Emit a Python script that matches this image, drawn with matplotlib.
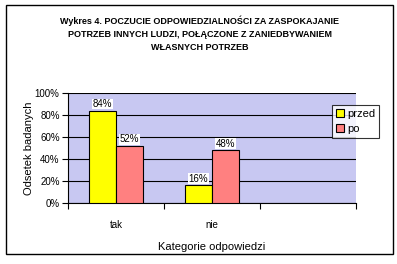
import matplotlib.pyplot as plt
import numpy as np
from matplotlib.patches import Rectangle

categories = ["tak", "nie", ""]
przed = [84, 16, None]
po = [52, 48, None]
series_names = ["przed", "po"]

plt.rcParams['font.family'] = ['Liberation Sans', 'DejaVu Sans']

fig = plt.figure(figsize=(3.97, 2.64), dpi=100)
fig.patches.append(Rectangle((6 / 397, 1 - 254 / 264), 387 / 397, 249 / 264,
                             transform=fig.transFigure, fill=False,
                             edgecolor="black", linewidth=1.0))

ax = fig.add_axes([68 / 397, 1 - 203 / 264, 288 / 397, 110 / 264])
ax.set_facecolor("#C8C8F2")

x = np.arange(len(categories))
w = 0.28
colors = ["#FFFF00", "#FF8080"]
for i, (vals, name) in enumerate(zip([przed, po], series_names)):
    xs = [xi for xi, v in zip(x, vals) if v is not None]
    vs = [v for v in vals if v is not None]
    bars = ax.bar(np.array(xs) + (i - 0.5) * w, vs, w, color=colors[i],
                  edgecolor="black", linewidth=0.8, label=name, zorder=3)
    for b, v in zip(bars, vs):
        ax.text(b.get_x() + b.get_width() / 2, v + 1.5, f"{v}%",
                ha="center", va="bottom", fontsize=7, zorder=4,
                bbox=dict(facecolor="white", edgecolor="none", pad=0.3))

ax.set_xlim(-0.5, len(categories) - 0.5)
ax.set_ylim(0, 100)
ax.set_yticks(range(0, 101, 20))
ax.set_yticklabels([f"{v}%" for v in range(0, 101, 20)], fontsize=7)
ax.yaxis.grid(True, color="black", linewidth=0.8, zorder=0)
ax.set_axisbelow(True)
ax.set_xticks(np.arange(-0.5, len(categories), 1.0))
ax.set_xticklabels([])
ax.set_xticks(x, minor=True)
ax.set_xticklabels(categories, minor=True, fontsize=7)
ax.tick_params(axis="x", which="minor", length=0, pad=12)
ax.tick_params(axis="x", which="major", length=4, direction="out", width=0.8)
ax.tick_params(axis="y", length=4, direction="out", width=0.8, pad=2)
for s in ["top", "right"]:
    ax.spines[s].set_visible(False)
for s in ["left", "bottom"]:
    ax.spines[s].set_linewidth(0.8)

fig.text(29 / 397, 1 - 148 / 264, "Odsetek badanych", rotation=90,
         ha="center", va="center", fontsize=8)
fig.text(212 / 397, 1 - 247 / 264, "Kategorie odpowiedzi", ha="center",
         va="center", fontsize=8)

fig.text(200 / 397, 1 - 34 / 264,
         "Wykres 4. POCZUCIE ODPOWIEDZIALNOŚCI ZA ZASPOKAJANIE\n"
         "POTRZEB INNYCH LUDZI, POŁĄCZONE Z ZANIEDBYWANIEM\n"
         "WŁASNYCH POTRZEB",
         ha="center", va="center", fontsize=6.5, fontweight="bold",
         linespacing=1.55, fontstretch="condensed")

leg = fig.legend(loc="upper left", bbox_to_anchor=(332 / 397, 1 - 105 / 264),
                 fontsize=8, frameon=True, fancybox=False, handlelength=0.7,
                 handleheight=0.7, handletextpad=0.3, borderpad=0.35,
                 labelspacing=0.45, borderaxespad=0)
leg.get_frame().set_edgecolor("black")
leg.get_frame().set_linewidth(0.8)

fig.savefig("out.png", dpi=100)
